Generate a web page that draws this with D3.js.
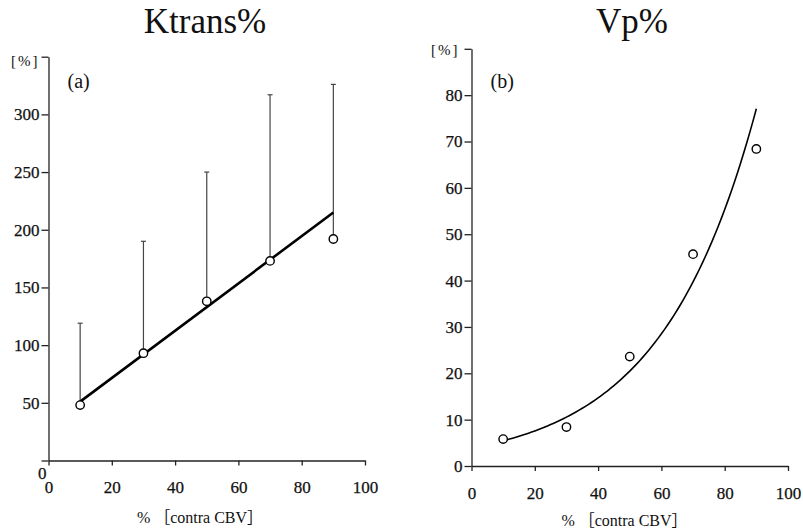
<!DOCTYPE html>
<html>
<head>
<meta charset="utf-8">
<script src="https://cdn.jsdelivr.net/npm/d3@7"></script>
<style>
  body { margin: 0; background: #fff; }
  svg text { font-family: "Liberation Serif", "Times New Roman", "Noto Sans CJK JP", serif; fill: #111; }
  .axis path, .axis line { stroke: #222; stroke-width: 1.3; }
</style>
</head>
<body>
<svg id="chart" width="803" height="532"></svg>
<script>
// x values (% contra CBV) shared by both panels
const conc = [10, 30, 50, 70, 90];
const xTicks = [0, 20, 40, 60, 80, 100];

// (a) Ktrans%
const ktransMean = [48, 93, 138, 173, 192];
const ktransUpper = [119, 190, 250, 317, 326];
const ktransTrendX = [10, 90];
const ktransTrendY = [51, 215];
const ktransTicks = [0, 50, 100, 150, 200, 250, 300, 350];

// (b) Vp%
const vpMean = [5.8, 8.4, 23.6, 45.7, 68.4];
const vpTicks = [0, 10, 20, 30, 40, 50, 60, 70, 80, 90];

const serif = '"Liberation Serif", "Times New Roman", serif';
const svg = d3.select('#chart');

function styleAxis(sel) {
  sel.attr('font-family', null).attr('font-size', null);
  sel.selectAll('text')
      .style('font-family', serif)
      .style('font-size', '17px')
      .style('fill', '#111')
      .style('stroke', '#111')
      .style('stroke-width', 0.25);
}

function panel(o) {
  const g = svg.append('g');

  const x = d3.scaleLinear().domain([0, 100]).range([o.left, o.left + 316.5]);
  const y = d3.scaleLinear().domain([0, o.yMax]).range([o.bottom, o.top]);

  // axes
  const yAxisG = g.append('g')
      .attr('class', 'axis')
      .attr('transform', `translate(${o.left},0)`)
      .call(d3.axisLeft(y)
        .tickValues(o.yTicks)
        .tickSize(7)
        .tickSizeOuter(0)
        .tickPadding(2)
        .tickFormat(d => d === o.yMax ? '' : d))
      .call(styleAxis);

  if (o.zeroShift) {
    // the y "0" sits under the axis, just above the x "0"
    yAxisG.selectAll('.tick')
        .filter(d => d === 0)
        .select('text')
        .attr('x', -2)
        .attr('y', 12.5);
  }

  g.append('g')
      .attr('class', 'axis')
      .attr('transform', `translate(0,${o.bottom})`)
      .call(d3.axisBottom(x)
        .tickValues(xTicks)
        .tickSize(5)
        .tickSizeOuter(0)
        .tickPadding(o.xPad))
      .call(styleAxis);

  // titles and labels
  g.append('text')
      .attr('x', o.titleX)
      .attr('y', 33)
      .attr('text-anchor', 'middle')
      .style('font-size', '35px')
      .text(o.title);

  g.append('text')
      .attr('x', o.left - o.unitGap)
      .attr('y', o.unitY)
      .attr('text-anchor', 'end')
      .style('font-size', '15px')
      .style('letter-spacing', '2px')
      .text('[%]');

  g.append('text')
      .attr('x', o.left + 19)
      .attr('y', 88)
      .style('font-size', '20px')
      .text(o.tag);

  g.append('text')
      .attr('x', o.xTitleX)
      .attr('y', o.xTitleY)
      .attr('text-anchor', 'middle')
      .style('font-size', '16px')
      .text('% ［contra CBV］');

  return {g, x, y};
}

// ---- panel (a)
const a = panel({
  left: 48.5, top: 56.7, bottom: 460.5, yMax: 350, yTicks: ktransTicks,
  zeroShift: true, xPad: 15.5, title: 'Ktrans%', titleX: 205, tag: '(a)',
  unitGap: 9, unitY: 66, xTitleX: 200, xTitleY: 523
});

// one-sided error bars
const bars = a.g.append('g')
    .attr('stroke', '#444')
    .attr('stroke-width', 1.2);

bars.selectAll('.eb')
    .data(conc)
  .join('line')
    .attr('x1', d => a.x(d))
    .attr('x2', d => a.x(d))
    .attr('y1', (d, i) => a.y(ktransMean[i]))
    .attr('y2', (d, i) => a.y(ktransUpper[i]));

bars.selectAll('.cap')
    .data(conc)
  .join('line')
    .attr('x1', d => a.x(d) - 2.5)
    .attr('x2', d => a.x(d) + 2.5)
    .attr('y1', (d, i) => a.y(ktransUpper[i]))
    .attr('y2', (d, i) => a.y(ktransUpper[i]));

a.g.append('line')
    .attr('x1', a.x(ktransTrendX[0]))
    .attr('y1', a.y(ktransTrendY[0]))
    .attr('x2', a.x(ktransTrendX[1]))
    .attr('y2', a.y(ktransTrendY[1]))
    .attr('stroke', '#000')
    .attr('stroke-width', 2.6);

a.g.selectAll('.pt')
    .data(conc)
  .join('circle')
    .attr('cx', d => a.x(d))
    .attr('cy', (d, i) => a.y(ktransMean[i]))
    .attr('r', 4.2)
    .attr('fill', '#fff')
    .attr('stroke', '#000')
    .attr('stroke-width', 1.4);

// ---- panel (b)
const b = panel({
  left: 471.5, top: 48.8, bottom: 466, yMax: 90, yTicks: vpTicks,
  zeroShift: false, xPad: 16, title: 'Vp%', titleX: 632, tag: '(b)',
  unitGap: 12, unitY: 55, xTitleX: 624.5, xTitleY: 526
});

// exponential trend fitted on ln(y), as a spreadsheet trendline does
const lnY = vpMean.map(Math.log);
const mx = d3.mean(conc), my = d3.mean(lnY);
const slope = d3.sum(conc, (d, i) => (d - mx) * (lnY[i] - my)) / d3.sum(conc, d => (d - mx) ** 2);
const icpt = my - slope * mx;
const trendXs = d3.range(10, 90.5, 1);

b.g.append('path')
    .datum(trendXs)
    .attr('fill', 'none')
    .attr('stroke', '#000')
    .attr('stroke-width', 1.6)
    .attr('d', d3.line()
      .x(d => b.x(d))
      .y(d => b.y(Math.exp(icpt + slope * d))));

b.g.selectAll('.pt')
    .data(conc)
  .join('circle')
    .attr('cx', d => b.x(d))
    .attr('cy', (d, i) => b.y(vpMean[i]))
    .attr('r', 4.2)
    .attr('fill', '#fff')
    .attr('stroke', '#000')
    .attr('stroke-width', 1.4);
</script>
</body>
</html>
